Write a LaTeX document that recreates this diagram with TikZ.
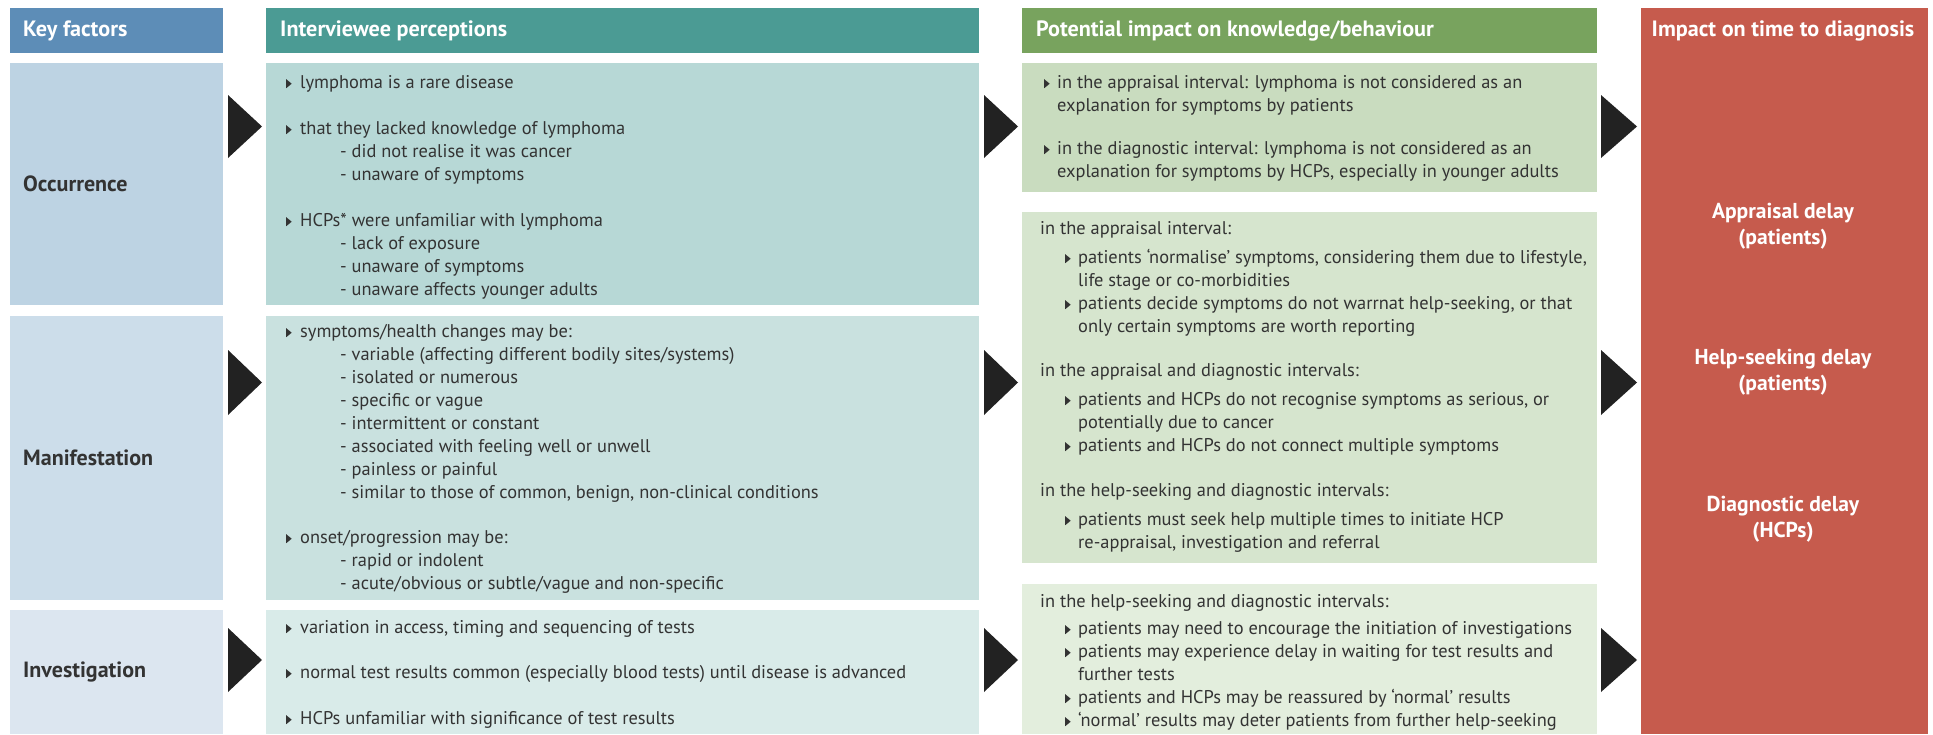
\documentclass[tikz,border=0pt]{standalone}
\usepackage{fontspec}
\setmainfont{PT Sans}
\definecolor{txt}{HTML}{333333}
\definecolor{kfh}{HTML}{5D8DB7}
\definecolor{iph}{HTML}{4B9B94}
\definecolor{pih}{HTML}{78A35E}
\definecolor{red}{HTML}{C65B4D}
\definecolor{kfa}{HTML}{BDD3E3}
\definecolor{kfb}{HTML}{CCDDEA}
\definecolor{kfc}{HTML}{DCE6F0}
\definecolor{ipa}{HTML}{B7D8D6}
\definecolor{ipb}{HTML}{C9E1DF}
\definecolor{ipc}{HTML}{D9EBE9}
\definecolor{pia}{HTML}{C9DCBF}
\definecolor{pib}{HTML}{D6E5CE}
\definecolor{pic}{HTML}{E3EEDD}
\definecolor{arr}{HTML}{222222}
\newcommand{\bul}[1][14pt]{\makebox[#1][l]{\tikz\fill[txt] (0pt,0.5pt) -- (0pt,9.5pt) -- (5.5pt,5pt) -- cycle;}}
\newcommand{\fl}{\rule{0pt}{14pt}}
\newcommand{\sbi}{\hspace*{54pt}}
\newcommand{\pbi}{\hspace*{25pt}\bul[13pt]}
\newcommand{\pci}{\hspace*{38pt}}
\newlength\tmpl
\newcommand{\calib}[4]{\settowidth{\tmpl}{#2\fontsize{20}{20}\selectfont #3}\pgfmathsetmacro#1{20*#4/\tmpl}}
\begin{document}
\calib{\bodysz}{}{normal test results common (especially blood tests) until disease is advanced}{606}%
\calib{\headsz}{\bfseries}{Interviewee perceptions}{227}%
\calib{\rowsz}{\bfseries}{Manifestation}{130}%
\calib{\redsz}{\bfseries}{Appraisal delay}{142}%
\begin{tikzpicture}[x=1pt,y=-1pt,
  rect/.style={inner sep=0pt, outer sep=0pt, anchor=north west, draw=none},
  body/.style={inner sep=0pt, anchor=north west, align=left, text=txt, font=\fontsize{\bodysz}{23}\selectfont},
  head/.style={inner sep=0pt, anchor=west, text=white, font=\bfseries\fontsize{\headsz}{23}\selectfont},
  rowlabel/.style={inner sep=0pt, anchor=west, text=txt, font=\bfseries\fontsize{\rowsz}{23}\selectfont},
  redlabel/.style={inner sep=0pt, anchor=center, align=center, text=white, font=\bfseries\fontsize{\redsz}{26}\selectfont},
  chevron/.style={fill=arr}
]
\useasboundingbox (0,0) rectangle (1933,734);
\fill[white] (0,0) rectangle (1933,734);
% header row
\node (kfh) [rect, fill=kfh, minimum width=213pt, minimum height=45pt] at (10,8) {};
\node (iph) [rect, fill=iph, minimum width=713pt, minimum height=45pt] at (266,8) {};
\node (pih) [rect, fill=pih, minimum width=575pt, minimum height=45pt] at (1022,8) {};
\node (redb) [rect, fill=red, minimum width=287pt, minimum height=726pt] at (1641,8) {};
% key factor boxes
\node (kfa) [rect, fill=kfa, minimum width=213pt, minimum height=242pt] at (10,63) {};
\node (kfb) [rect, fill=kfb, minimum width=213pt, minimum height=284pt] at (10,316) {};
\node (kfc) [rect, fill=kfc, minimum width=213pt, minimum height=124pt] at (10,610) {};
% interviewee boxes
\node (ipa) [rect, fill=ipa, minimum width=713pt, minimum height=242pt] at (266,63) {};
\node (ipb) [rect, fill=ipb, minimum width=713pt, minimum height=284pt] at (266,316) {};
\node (ipc) [rect, fill=ipc, minimum width=713pt, minimum height=124pt] at (266,610) {};
% potential impact boxes
\node (pia) [rect, fill=pia, minimum width=575pt, minimum height=129pt] at (1022,63) {};
\node (pib) [rect, fill=pib, minimum width=575pt, minimum height=351pt] at (1022,212) {};
\node (pic) [rect, fill=pic, minimum width=575pt, minimum height=150pt] at (1022,584) {};
% chevrons
\foreach \xa/\xb in {228/262, 984/1018, 1601/1637}{
  \fill[chevron] (\xa,95) -- (\xb,126.5) -- (\xa,158) -- cycle;
  \fill[chevron] (\xa,350) -- (\xb,382.5) -- (\xa,415) -- cycle;
  \fill[chevron] (\xa,628) -- (\xb,660) -- (\xa,692) -- cycle;
}
% header texts
\node (t1) [head] at (23,31) {Key factors};
\node (t2) [head] at (280,31) {Interviewee perceptions};
\node (t3) [head] at (1036,31) {Potential impact on knowledge/behaviour};
\node (t4) [head, anchor=center] at (1783,31) {Impact on time to diagnosis};
% row labels
\node (l1) [rowlabel] at (23,184) {Occurrence};
\node (l2) [rowlabel] at (23,458) {Manifestation};
\node (l3) [rowlabel] at (23,672) {Investigation};
% interviewee texts
\node (ta) [body] at (286,74) {\fl\bul lymphoma is a rare disease\\[23pt]
\bul that they lacked knowledge of lymphoma\\
\sbi- did not realise it was cancer\\
\sbi- unaware of symptoms\\[23pt]
\bul HCPs* were unfamiliar with lymphoma\\
\sbi- lack of exposure\\
\sbi- unaware of symptoms\\
\sbi- unaware affects younger adults};
\node (tb) [body] at (286,323) {\fl\bul symptoms/health changes may be:\\
\sbi- variable (affecting different bodily sites/systems)\\
\sbi- isolated or numerous\\
\sbi- specific or vague\\
\sbi- intermittent or constant\\
\sbi- associated with feeling well or unwell\\
\sbi- painless or painful\\
\sbi- similar to those of common, benign, non-clinical conditions\\[22pt]
\bul onset/progression may be:\\
\sbi- rapid or indolent\\
\sbi- acute/obvious or subtle/vague and non-specific};
\node (tc) [body] at (286,619) {\fl\bul variation in access, timing and sequencing of tests\\[22pt]
\bul normal test results common (especially blood tests) until disease is advanced\\[23pt]
\bul HCPs unfamiliar with significance of test results};
% potential impact texts
\node (pa) [body] at (1044,74) {\fl\bul[13pt]in the appraisal interval: lymphoma is not considered as an\\
\hspace*{13pt}explanation for symptoms by patients\\[20pt]
\bul[13pt]in the diagnostic interval: lymphoma is not considered as an\\
\hspace*{13pt}explanation for symptoms by HCPs, especially in younger adults};
\node (pb) [body] at (1040,220) {\fl in the appraisal interval:\\[6pt]
\pbi patients ‘normalise’ symptoms, considering them due to lifestyle,\\
\pci life stage or co-morbidities\\
\pbi patients decide symptoms do not warrnat help-seeking, or that\\
\pci only certain symptoms are worth reporting\\[21pt]
in the appraisal and diagnostic intervals:\\[6pt]
\pbi patients and HCPs do not recognise symptoms as serious, or\\
\pci potentially due to cancer\\
\pbi patients and HCPs do not connect multiple symptoms\\[22pt]
in the help-seeking and diagnostic intervals:\\[6pt]
\pbi patients must seek help multiple times to initiate HCP\\
\pci re-appraisal, investigation and referral};
\node (pc) [body] at (1040,593) {\fl in the help-seeking and diagnostic intervals:\\[4pt]
\pbi patients may need to encourage the initiation of investigations\\
\pbi patients may experience delay in waiting for test results and\\
\pci further tests\\
\pbi patients and HCPs may be reassured by ‘normal’ results\\
\pbi ‘normal’ results may deter patients from further help-seeking};
% red texts
\node (r1) [redlabel] at (1783,226) {Appraisal delay\\(patients)};
\node (r2) [redlabel] at (1783,372.5) {Help-seeking delay\\(patients)};
\node (r3) [redlabel] at (1783,519) {Diagnostic delay\\(HCPs)};
\end{tikzpicture}
\end{document}
